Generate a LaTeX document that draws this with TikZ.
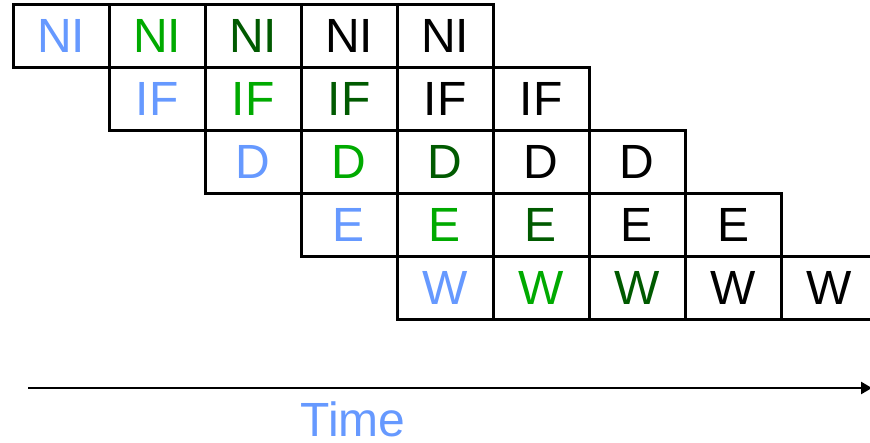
\documentclass[tikz,border=0pt]{standalone}
\usepackage{fontspec}
\setmainfont{Liberation Sans}
\usetikzlibrary{arrows.meta, positioning}
\definecolor{firstins}{HTML}{6699FF}
\definecolor{secondins}{HTML}{00AA00}
\definecolor{thirdins}{HTML}{005A00}

\begin{document}
\begin{tikzpicture}[
  x=1pt, y=1pt,
  >={Triangle[length=11pt, width=12pt]},
  node distance=0pt,
  every node/.style={font=\fontsize{48}{50}\selectfont},
  stagebox/.style={draw=black, line width=3pt, fill=white, outer sep=0pt,
                   inner sep=0pt, minimum width=96pt, minimum height=63pt},
  ins1/.style={stagebox, text=firstins},
  ins2/.style={stagebox, text=secondins},
  ins3/.style={stagebox, text=thirdins},
  ins4/.style={stagebox, text=black},
  timeline/.style={->, line width=2.5pt}
]
  \useasboundingbox (0,0) rectangle (870,-443);

  % fetch row
  \node[ins1] (ni1) at (61,-36) {NI};
  \node[ins2, right=of ni1] (ni2) {NI};
  \node[ins3, right=of ni2] (ni3) {NI};
  \node[ins4, right=of ni3] (ni4) {NI};
  \node[ins4, right=of ni4] (ni5) {NI};

  % decode row
  \node[ins1, below=of ni2] (if1) {IF};
  \node[ins2, right=of if1] (if2) {IF};
  \node[ins3, right=of if2] (if3) {IF};
  \node[ins4, right=of if3] (if4) {IF};
  \node[ins4, right=of if4] (if5) {IF};

  % operand row
  \node[ins1, below=of if2] (d1) {D};
  \node[ins2, right=of d1] (d2) {D};
  \node[ins3, right=of d2] (d3) {D};
  \node[ins4, right=of d3] (d4) {D};
  \node[ins4, right=of d4] (d5) {D};

  % execute row
  \node[ins1, below=of d2] (e1) {E};
  \node[ins2, right=of e1] (e2) {E};
  \node[ins3, right=of e2] (e3) {E};
  \node[ins4, right=of e3] (e4) {E};
  \node[ins4, right=of e4] (e5) {E};

  % write row
  \node[ins1, below=of e2] (w1) {W};
  \node[ins2, right=of w1] (w2) {W};
  \node[ins3, right=of w2] (w3) {W};
  \node[ins4, right=of w3] (w4) {W};
  \node[ins4, right=of w4] (w5) {W};

  % time axis
  \coordinate (tstart) at (28,-388);
  \coordinate (tend) at (872,-388);
  \draw[timeline] (tstart) -- (tend);
  \node[text=firstins, inner sep=0pt] (timelabel) at (353,-419) {Time};
\end{tikzpicture}
\end{document}
